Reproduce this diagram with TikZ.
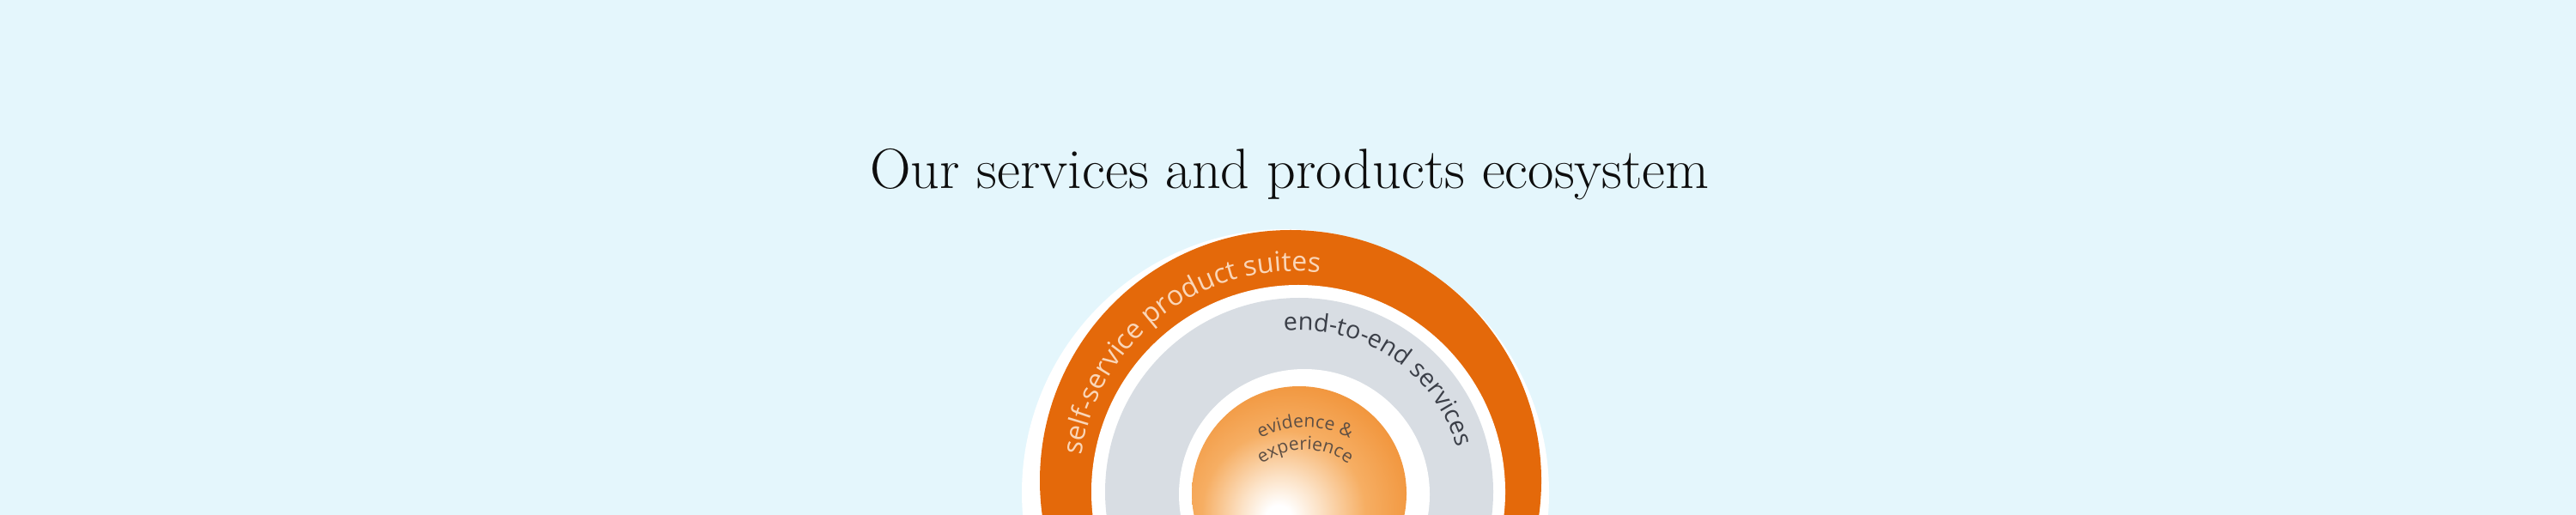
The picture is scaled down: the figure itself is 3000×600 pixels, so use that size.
\documentclass[tikz,border=0pt]{standalone}
\usepackage{fontspec}
\newfontfamily\ringfont{Open Sans}
\usetikzlibrary{decorations.text}

\definecolor{skyback}{HTML}{E4F6FC}
\definecolor{titleink}{HTML}{0E0E0E}
\definecolor{ringorange}{HTML}{E4690A}
\definecolor{ringgray}{HTML}{D8DDE3}
\definecolor{suitetext}{HTML}{FAD6B8}
\definecolor{servicetext}{HTML}{3B3F48}
\definecolor{coretext}{HTML}{5E4F44}
\definecolor{ballpale}{HTML}{FCE3C8}
\definecolor{ballmid}{HTML}{F6AE63}
\definecolor{ballout}{HTML}{F1953C}

\pgfdeclareradialshading{ballglow}{\pgfpoint{-5bp}{-6bp}}{color(0bp)=(white); color(3bp)=(white); color(9bp)=(ballpale); color(19bp)=(ballmid); color(30bp)=(ballout); color(70bp)=(ballout)}

\begin{document}
\begin{tikzpicture}[x=0.1mm, y=0.1mm,
        band/.style={
        % The filling:
        fill=#1,
        % The border:
        draw=none
        },
        heading/.style={
        % The font:
        font=\fontsize{18.8}{22}\selectfont,
        text=titleink,
        % The place:
        anchor=base, inner sep=0pt
        },
        ]
    \useasboundingbox (0,0) rectangle (3000,600);
    \fill[skyback] (0,0) rectangle (3000,600);

    \node[heading] (title) at (1502,380) {Our services and products ecosystem};

    % the rings, cut at the bottom edge
    \begin{scope}
        \clip (0,0) rectangle (3000,600);
        \fill[band=white] (1497,26) circle[radius=307];
        \fill[band=ringorange] (1503,40) circle[radius=292];
        \fill[band=white] (1512,27) circle[radius=241];
        \fill[band=ringgray] (1513,27) circle[radius=226];
        \fill[band=white] (1519,24) circle[radius=146];
        \shade[shading=ballglow] (1513,25) circle[radius=125];
    \end{scope}

    % labels along the rings
    \path[decorate, decoration={text along path, text align=center,
        text={|\ringfont\fontsize{9.1}{11}\selectfont\color{suitetext}|self-service product suites}}]
        (1507,34) ++(187.5:250) arc[start angle=187.5, end angle=67.5, radius=250];
    \path[decorate, decoration={text along path, text align=center,
        text={|\ringfont\fontsize{8.2}{10}\selectfont\color{servicetext}|end-to-end services}}]
        (1515,26) ++(126:189) arc[start angle=126, end angle=-14, radius=189];
    \path[decorate, decoration={text along path, text align=center,
        text={|\ringfont\fontsize{6}{7}\selectfont\color{coretext}|evidence {\&}}}]
        (1520,-10) ++(160:112) arc[start angle=160, end angle=20, radius=112];
    \path[decorate, decoration={text along path, text align=center,
        text={|\ringfont\fontsize{6}{7}\selectfont\color{coretext}|experience}}]
        (1520,-10) ++(160:86) arc[start angle=160, end angle=20, radius=86];
\end{tikzpicture}
\end{document}
